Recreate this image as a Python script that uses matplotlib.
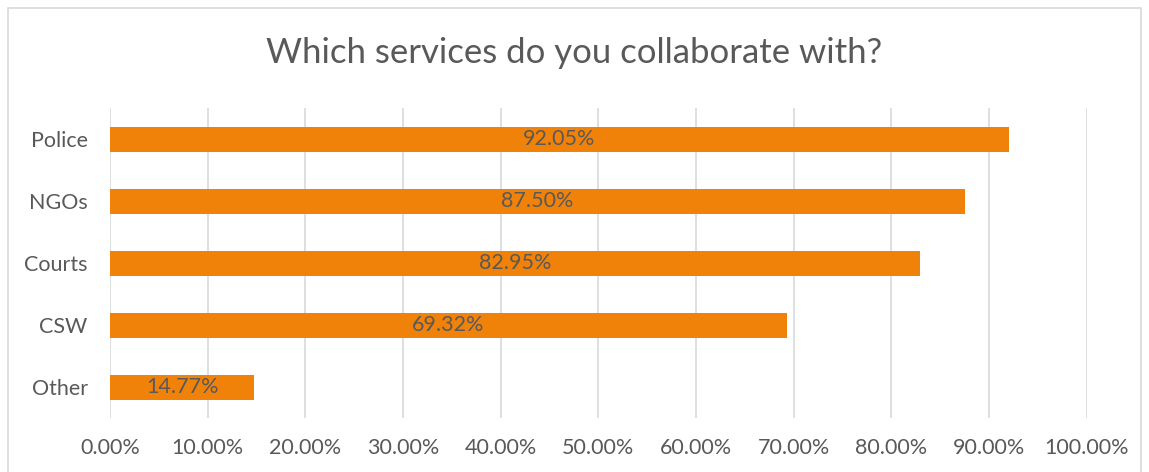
import matplotlib.pyplot as plt
from matplotlib.patches import Rectangle
from matplotlib.ticker import PercentFormatter

categories = ["Police", "NGOs", "Courts", "CSW", "Other"]
shares = [92.05, 87.50, 82.95, 69.32, 14.77]
x_ticks = [0, 10, 20, 30, 40, 50, 60, 70, 80, 90, 100]

text_color = "#595959"
bar_color = "#F0820A"
grid_color = "#D9D9D9"

plt.rcParams["font.family"] = ["Lato", "DejaVu Sans"]

fig = plt.figure(figsize=(11.49, 4.72), dpi=100)
ax = fig.add_axes([0.0957, 0.114, 0.850, 0.657])

# Moldura clara em volta do gráfico
fig.patches.append(Rectangle((8 / 1149, -0.05), 1133 / 1149, 1.0 - 8 / 472 + 0.05,
                             transform=fig.transFigure, fill=False,
                             edgecolor="#D9D9D9", linewidth=1.2))

ypos = list(range(len(categories)))
bars = ax.barh(ypos, shares, height=0.4, color=bar_color, zorder=2)

for b, v in zip(bars, shares):
    ax.text(v / 2, b.get_y() + b.get_height() / 2, f"{v:.2f}%",
            ha="center", va="center", fontsize=15.5, color=text_color, zorder=3)

ax.set_yticks(ypos)
ax.set_yticklabels(categories)
ax.set_ylim(len(categories) - 0.5, -0.5)
ax.set_xlim(0, 100)
ax.set_xticks(x_ticks)
ax.xaxis.set_major_formatter(PercentFormatter(decimals=2))

ax.grid(axis="x", color=grid_color, linewidth=1.2, zorder=0)
ax.set_axisbelow(True)
for s in ax.spines.values():
    s.set_visible(False)
ax.tick_params(length=0, labelsize=15.5, colors=text_color)
ax.tick_params(axis="x", pad=14)
ax.tick_params(axis="y", pad=16)

fig.text(0.5, 1 - 53 / 472, "Which services do you collaborate with?",
         ha="center", va="center", fontsize=25, color=text_color)

plt.savefig("out.png", dpi=100)
